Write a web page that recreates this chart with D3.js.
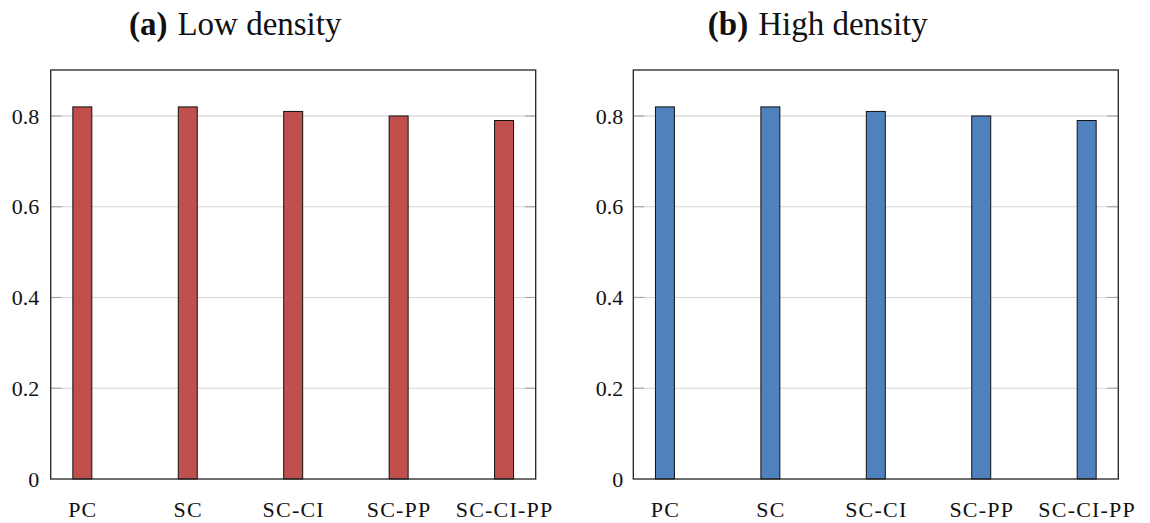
<!DOCTYPE html>
<html>
<head>
<meta charset="utf-8">
<script src="https://cdn.jsdelivr.net/npm/d3@7"></script>
<style>
  html, body { margin: 0; padding: 0; background: #fff; }
  svg { display: block; }
  svg text { font-family: "Liberation Serif", "DejaVu Serif", serif; fill: #111; }
</style>
</head>
<body>
<svg id="chart" width="1150" height="523"></svg>
<script>
const categories = ["PC", "SC", "SC-CI", "SC-PP", "SC-CI-PP"];
const lowDensity = [0.82, 0.82, 0.81, 0.80, 0.79];
const highDensity = [0.82, 0.82, 0.81, 0.80, 0.79];
const yTickValues = [0, 0.2, 0.4, 0.6, 0.8];
const yTickLabels = ["0", "0.2", "0.4", "0.6", "0.8"];
const panelLabels = ["(a)", "(b)"];
const panelTitles = ["Low density", "High density"];
const panelColors = ["#c0504d", "#4f81bd"];

const svg = d3.select("#chart");

const panels = [
  { left: 50.7, data: lowDensity, label: panelLabels[0], title: panelTitles[0], color: panelColors[0], labelGap: 11.5 },
  { left: 633.3, data: highDensity, label: panelLabels[1], title: panelTitles[1], color: panelColors[1], labelGap: 10 }
];
const plotTop = 70, plotBottom = 479, plotWidth = 485;

panels.forEach(p => {
  const g = svg.append("g").attr("transform", `translate(${p.left},0)`);
  const x = d3.scalePoint().domain(categories).range([0, plotWidth]).padding(0.3);
  const y = d3.scaleLinear().domain([0, 0.9013]).range([plotBottom, plotTop]);
  const barW = x.step() * 0.18;

  const gridVals = yTickValues.filter(v => v > 0);
  g.append("g").selectAll("line").data(gridVals).join("line")
    .attr("x1", 0).attr("x2", plotWidth)
    .attr("y1", d => y(d)).attr("y2", d => y(d))
    .attr("stroke", "#d6d6d6").attr("stroke-width", 1.2);

  const tickLen = 11;
  g.append("g").selectAll("line").data(gridVals).join("line")
    .attr("x1", 0).attr("x2", tickLen)
    .attr("y1", d => y(d)).attr("y2", d => y(d))
    .attr("stroke", "#a8a8a8").attr("stroke-width", 1.2);
  g.append("g").selectAll("line").data(gridVals).join("line")
    .attr("x1", plotWidth - tickLen).attr("x2", plotWidth)
    .attr("y1", d => y(d)).attr("y2", d => y(d))
    .attr("stroke", "#a8a8a8").attr("stroke-width", 1.2);

  g.append("g").selectAll("rect").data(p.data).join("rect")
    .attr("x", (d, i) => x(categories[i]) - barW / 2)
    .attr("y", d => y(d))
    .attr("width", barW)
    .attr("height", d => y(0) - y(d))
    .attr("fill", p.color)
    .attr("stroke", "#111")
    .attr("stroke-width", 1);

  g.append("rect").attr("x", 0).attr("y", plotTop).attr("width", plotWidth).attr("height", plotBottom - plotTop)
    .attr("fill", "none").attr("stroke", "#222").attr("stroke-width", 1.3);

  const yAxis = d3.axisLeft(y).tickValues(yTickValues)
    .tickFormat((d, i) => yTickLabels[i]).tickSize(0).tickPadding(p.labelGap);
  const ya = g.append("g").call(yAxis).attr("font-family", null).attr("font-size", null);
  ya.select(".domain").remove();
  ya.selectAll("text").style("font-size", "22px").style("font-family", "'Liberation Serif', serif")
    .attr("fill", "#111").attr("dy", "0.33em");

  const xAxis = d3.axisBottom(x).tickSize(0).tickPadding(22);
  const xa = g.append("g").attr("transform", `translate(0,${plotBottom})`).call(xAxis)
    .attr("font-family", null).attr("font-size", null);
  xa.select(".domain").remove();
  xa.selectAll("text").style("font-size", "22px").style("font-family", "'Liberation Serif', serif")
    .style("letter-spacing", "1.2px").attr("fill", "#111");

  const t = svg.append("text")
    .attr("x", p.left + plotWidth / 2 - 58)
    .attr("y", 34.5)
    .attr("text-anchor", "middle")
    .style("font-size", "33px");
  t.append("tspan").attr("font-weight", "bold").text(p.label);
  t.append("tspan").attr("dx", 10).text(p.title);
});
</script>
</body>
</html>
